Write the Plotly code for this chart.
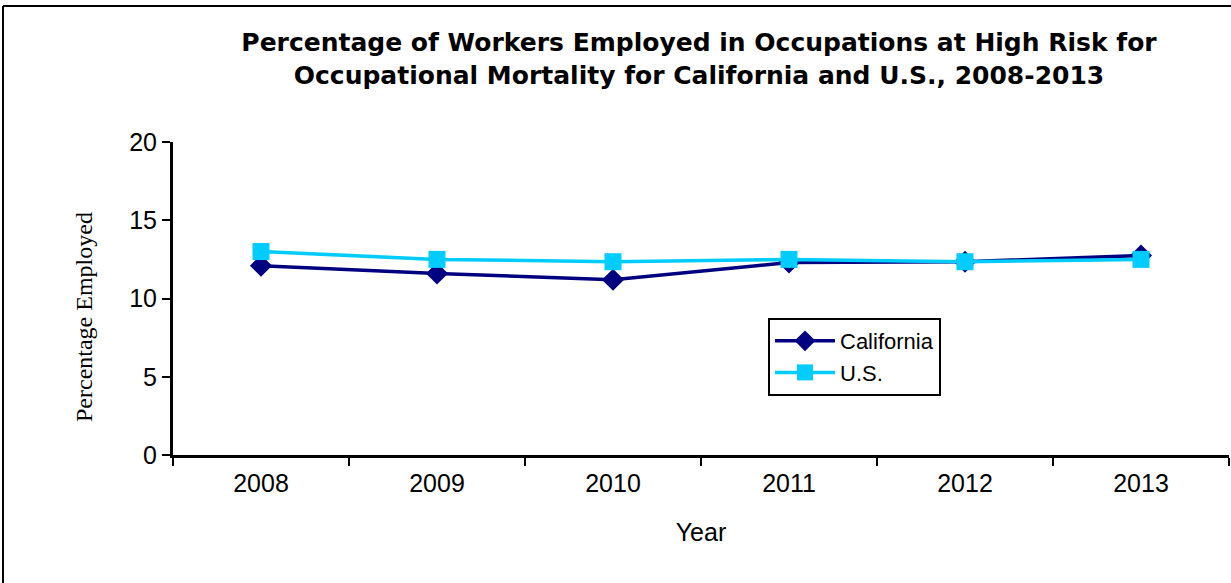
import plotly.graph_objects as go

years = ["2008", "2009", "2010", "2011", "2012", "2013"]
california = [12.1, 11.6, 11.2, 12.3, 12.35, 12.75]
us = [13.0, 12.5, 12.35, 12.5, 12.35, 12.5]

fig = go.Figure()
fig.add_trace(go.Scatter(
    x=years, y=california, name="California", mode="lines+markers",
    line=dict(color="#000080", width=3.5),
    marker=dict(symbol="diamond", size=17, color="#000080"),
))
fig.add_trace(go.Scatter(
    x=years, y=us, name="U.S.", mode="lines+markers",
    line=dict(color="#00CCFF", width=3.5),
    marker=dict(symbol="square", size=17, color="#00CCFF"),
))

font = "Arial, Liberation Sans, sans-serif"
fig.update_layout(
    width=1231, height=583,
    margin=dict(l=173, r=2, t=142, b=128),
    paper_bgcolor="white", plot_bgcolor="white",
    title=dict(
        text="Percentage of Workers Employed in Occupations at High Risk for<br>Occupational Mortality for California and U.S., 2008-2013",
        x=699 / 1231, xanchor="center", y=1 - 51 / 583, yanchor="middle",
        font=dict(family="DejaVu Sans, sans-serif", size=25, color="black", weight="bold"),
    ),
    showlegend=True,
    legend=dict(
        x=(768 - 173) / 1056, y=(455 - 318) / 313, xanchor="left", yanchor="top",
        bordercolor="black", borderwidth=2, bgcolor="white",
        font=dict(family=font, size=22, color="black"),
        tracegroupgap=2, itemwidth=60,
    ),
    xaxis=dict(
        type="category", range=[-0.5, 5.5], tickson="boundaries",
        showline=True, linecolor="black", linewidth=3,
        ticks="outside", ticklen=8, tickwidth=2, tickcolor="black",
        showgrid=False, zeroline=False, ticklabelstandoff=4,
        tickfont=dict(family=font, size=25, color="black"),
        title=dict(text="Year", font=dict(family=font, size=25, color="black"), standoff=28),
    ),
    yaxis=dict(
        range=[0, 20], dtick=5,
        showline=True, linecolor="black", linewidth=3,
        ticks="outside", ticklen=8, tickwidth=2, tickcolor="black",
        showgrid=False, zeroline=False,
        tickfont=dict(family=font, size=25, color="black"),
    ),
    annotations=[dict(
        text="Percentage Employed", textangle=-90, showarrow=False,
        xref="paper", yref="paper",
        x=(84 - 173) / 1056, y=(455 - 317) / 313, xanchor="center", yanchor="middle",
        font=dict(family="Times New Roman, Liberation Serif, serif", size=24, color="black"),
    )],
)

xl = (3 - 173) / 1056
yt = (455 - 6) / 313
fig.add_shape(type="line", xref="paper", yref="paper", x0=xl, x1=xl, y0=-0.5, y1=yt,
              line=dict(color="black", width=2))
fig.add_shape(type="line", xref="paper", yref="paper", x0=xl, x1=1.1, y0=yt, y1=yt,
              line=dict(color="black", width=2))

fig.write_html("out.html", config={"displayModeBar": False},
               post_script="document.body.style.margin='0';")
